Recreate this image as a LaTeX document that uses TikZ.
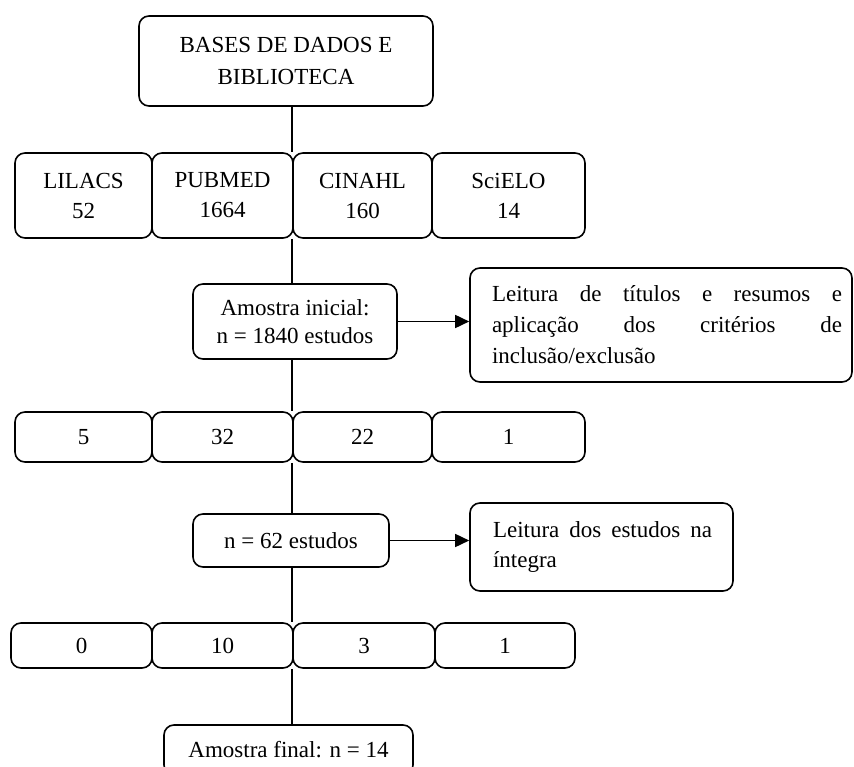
\documentclass[tikz,border=0pt]{standalone}
\usepackage{fontspec}
\setmainfont{Liberation Serif}
\usetikzlibrary{arrows.meta}
\begin{document}
\begin{tikzpicture}[x=1pt,y=-1pt,
  box/.style={draw, rounded corners=10pt, line width=1.6pt, inner sep=0pt,
    font=\fontsize{23}{30}\selectfont, align=center},
  wh/.style 2 args={minimum width=#1pt, minimum height=#2pt},
  conn/.style={line width=1.6pt},
  arr/.style={line width=1.6pt, -{Triangle[length=14pt,width=13pt]}}]
\useasboundingbox (0,0) rectangle (854,767);
\clip (0,0) rectangle (854,767);
\fill[white] (0,0) rectangle (854,767);

% top
\node[box, wh={294}{90}, font=\fontsize{23}{32}\selectfont] (top) at (286,61) {BASES DE DADOS E\\BIBLIOTECA};

% row 1
\node[box, wh={137}{85}] (l1) at (83.5,195.5) {LILACS\\52};
\node[box, wh={141}{85}] (p1) at (222.5,195.5) {PUBMED\\1664};
\node[box, wh={139}{85}] (c1) at (362.5,195.5) {CINAHL\\160};
\node[box, wh={153}{85}] (s1) at (508.5,195.5) {SciELO\\14};

% initial sample
\node[box, wh={204}{75}, font=\fontsize{23}{28}\selectfont] (am) at (295,321.5) {Amostra inicial:\\n = 1840 estudos};
\node[box, wh={382}{114}, text width=382pt, align=left, font=\fontsize{23}{31}\selectfont] (rb1) at (661,325)
  {\hspace*{22pt}\hbox to 350pt{Leitura\hfill de\hfill títulos\hfill e\hfill resumos\hfill e}\\
   \hspace*{22pt}\hbox to 350pt{aplicação\hfill dos\hfill critérios\hfill de}\\
   \hspace*{22pt}inclusão/exclusão};

% row 2
\node[box, wh={137}{50}] (l2) at (83.5,437) {5};
\node[box, wh={141}{50}] (p2) at (222.5,437) {32};
\node[box, wh={139}{50}] (c2) at (362.5,437) {22};
\node[box, wh={153}{50}] (s2) at (508.5,437) {1};

% n = 62
\node[box, wh={196}{53}] (n62) at (291,540.5) {n = 62 estudos};
\node[box, wh={263}{88}, text width=263pt, align=left] (rb2) at (601.5,547)
  {\hspace*{23pt}\hbox to 219pt{Leitura\hfill dos\hfill estudos\hfill na}\\
   \hspace*{23pt}íntegra};

% row 3
\node[box, wh={141}{45}] (l3) at (81.5,645.5) {0};
\node[box, wh={141}{45}] (p3) at (222.5,645.5) {10};
\node[box, wh={142}{45}] (c3) at (364,645.5) {3};
\node[box, wh={140}{45}] (s3) at (505,645.5) {1};

% final
\node[box, wh={249}{50}] (fin) at (288.5,750) {Amostra final: n = 14};

% connectors
\draw[conn] (top.south -| c1.west) -- (c1.north west);
\draw[conn] (c1.south west) -- (c1.south west |- am.north);
\draw[conn] (am.south -| c2.west) -- (c2.north west);
\draw[conn] (c2.south west) -- (c2.south west |- n62.north);
\draw[conn] (n62.south -| c3.west) -- (c3.north west);
\draw[conn] (c3.south west) -- (c3.south west |- fin.north);
\draw[arr] (am.east) -- (am.east -| rb1.west);
\draw[arr] (n62.east) -- (n62.east -| rb2.west);
\end{tikzpicture}
\end{document}
